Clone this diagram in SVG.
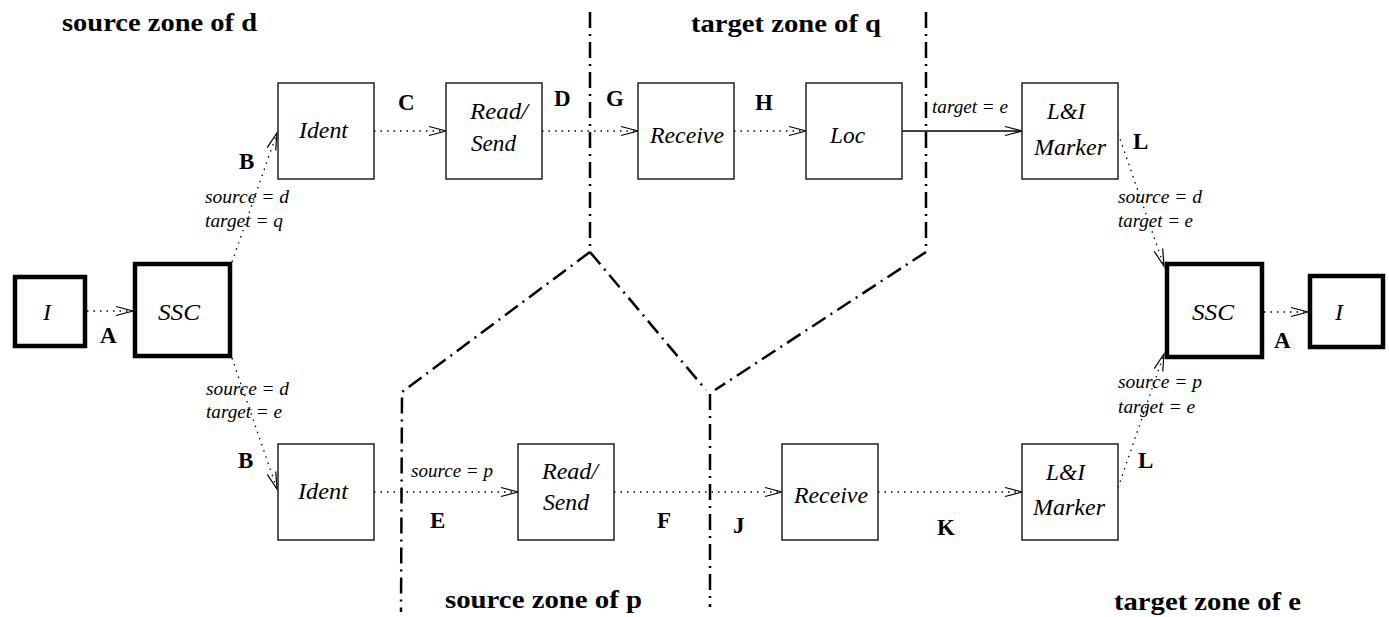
<svg xmlns="http://www.w3.org/2000/svg" width="1389" height="617" viewBox="0 0 1389 617">
<style>
.box{fill:#fff;stroke:#222;stroke-width:1.5}
.thick{fill:#fff;stroke:#000;stroke-width:4.5}
.nt{font-family:"Liberation Serif","Times New Roman",serif;font-style:italic;font-size:24px;fill:#000}
.sl{font-family:"Liberation Serif","Times New Roman",serif;font-style:italic;font-size:19px;fill:#000}
.lb{font-family:"Liberation Serif","Times New Roman",serif;font-weight:bold;font-size:23px;fill:#000}
.tt{font-family:"Liberation Serif","Times New Roman",serif;font-weight:bold;font-size:26px;fill:#000}
.dot{fill:none;stroke:#000;stroke-width:1.3;stroke-dasharray:1.5 5}
.solid{fill:none;stroke:#000;stroke-width:1.3}
.zone{fill:none;stroke:#000;stroke-width:2.5;stroke-dasharray:16 6 2 6}
</style>
<defs>
<marker id="arr" markerUnits="userSpaceOnUse" markerWidth="20" markerHeight="12" refX="17" refY="6" orient="auto" overflow="visible">
<path d="M0,1.5 L17,6 L0,10.5" fill="none" stroke="#000" stroke-width="1.2" stroke-dasharray="none"/>
</marker>
</defs>
<g id="zones">
<path class="zone" d="M590,12 L590,252 L402,392 L401,612"/>
<path class="zone" d="M590,252 L706,390"/>
<path class="zone" d="M710,394 L710,607"/>
<path class="zone" d="M926,12 L926,252 L715,390"/>
</g>
<g id="connectors">
<path class="dot" d="M87,311 L133,311" marker-end="url(#arr)"/>
<path class="dot" d="M1264,312 L1308,312" marker-end="url(#arr)"/>
<path class="dot" d="M232,262 L277,133" marker-end="url(#arr)"/>
<path class="dot" d="M232,358 L277,489" marker-end="url(#arr)"/>
<path class="dot" d="M374,131 L446,131" marker-end="url(#arr)"/>
<path class="dot" d="M542,131 L638,131" marker-end="url(#arr)"/>
<path class="dot" d="M734,131 L806,131" marker-end="url(#arr)"/>
<path class="solid" d="M902,131 L1022,131" marker-end="url(#arr)"/>
<path class="dot" d="M1118,133 L1164,266" marker-end="url(#arr)"/>
<path class="dot" d="M1118,488 L1164,354" marker-end="url(#arr)"/>
<path class="dot" d="M374,492 L518,492" marker-end="url(#arr)"/>
<path class="dot" d="M614,492 L782,492" marker-end="url(#arr)"/>
<path class="dot" d="M878,492 L1022,492" marker-end="url(#arr)"/>
</g>
<g id="node-I-left"><rect class="thick" x="15" y="277" width="70" height="69"/><text class="nt" x="43" y="320">I</text></g>
<g id="node-SSC-left"><rect class="thick" x="135" y="264" width="95" height="92"/><text class="nt" x="158" y="320" textLength="42" lengthAdjust="spacingAndGlyphs">SSC</text></g>
<g id="node-Ident-top"><rect class="box" x="278" y="83" width="96" height="96"/><text class="nt" x="299" y="138" textLength="49" lengthAdjust="spacingAndGlyphs">Ident</text></g>
<g id="node-ReadSend-top"><rect class="box" x="446" y="83" width="96" height="96"/><text class="nt" x="470" y="119" textLength="58" lengthAdjust="spacingAndGlyphs">Read/</text><text class="nt" x="471" y="151" textLength="45" lengthAdjust="spacingAndGlyphs">Send</text></g>
<g id="node-Receive-top"><rect class="box" x="638" y="83" width="96" height="96"/><text class="nt" x="650" y="143" textLength="74" lengthAdjust="spacingAndGlyphs">Receive</text></g>
<g id="node-Loc"><rect class="box" x="806" y="83" width="96" height="96"/><text class="nt" x="830" y="143" textLength="35" lengthAdjust="spacingAndGlyphs">Loc</text></g>
<g id="node-LIMarker-top"><rect class="box" x="1022" y="83" width="96" height="96"/><text class="nt" x="1047" y="119" textLength="38" lengthAdjust="spacingAndGlyphs">L&amp;I</text><text class="nt" x="1034" y="155" textLength="72" lengthAdjust="spacingAndGlyphs">Marker</text></g>
<g id="node-SSC-right"><rect class="thick" x="1167" y="264" width="95" height="93"/><text class="nt" x="1192" y="320" textLength="42" lengthAdjust="spacingAndGlyphs">SSC</text></g>
<g id="node-I-right"><rect class="thick" x="1310" y="276" width="73" height="71"/><text class="nt" x="1335" y="320">I</text></g>
<g id="node-Ident-bottom"><rect class="box" x="278" y="444" width="96" height="96"/><text class="nt" x="298" y="499" textLength="50" lengthAdjust="spacingAndGlyphs">Ident</text></g>
<g id="node-ReadSend-bottom"><rect class="box" x="518" y="444" width="96" height="96"/><text class="nt" x="542" y="479" textLength="56" lengthAdjust="spacingAndGlyphs">Read/</text><text class="nt" x="543" y="510" textLength="46" lengthAdjust="spacingAndGlyphs">Send</text></g>
<g id="node-Receive-bottom"><rect class="box" x="782" y="444" width="96" height="96"/><text class="nt" x="794" y="503" textLength="74" lengthAdjust="spacingAndGlyphs">Receive</text></g>
<g id="node-LIMarker-bottom"><rect class="box" x="1022" y="444" width="96" height="96"/><text class="nt" x="1046" y="480" textLength="39" lengthAdjust="spacingAndGlyphs">L&amp;I</text><text class="nt" x="1033" y="515" textLength="72" lengthAdjust="spacingAndGlyphs">Marker</text></g>
<g id="edge-labels">
<text class="sl" x="205" y="203" textLength="84" lengthAdjust="spacingAndGlyphs">source = d</text>
<text class="sl" x="205" y="227" textLength="78" lengthAdjust="spacingAndGlyphs">target = q</text>
<text class="sl" x="206" y="395" textLength="83" lengthAdjust="spacingAndGlyphs">source = d</text>
<text class="sl" x="206" y="418" textLength="76" lengthAdjust="spacingAndGlyphs">target = e</text>
<text class="sl" x="411" y="477" textLength="82" lengthAdjust="spacingAndGlyphs">source = p</text>
<text class="sl" x="932" y="113" textLength="76" lengthAdjust="spacingAndGlyphs">target = e</text>
<text class="sl" x="1118" y="203" textLength="84" lengthAdjust="spacingAndGlyphs">source = d</text>
<text class="sl" x="1118" y="227" textLength="75" lengthAdjust="spacingAndGlyphs">target = e</text>
<text class="sl" x="1118" y="388" textLength="84" lengthAdjust="spacingAndGlyphs">source = p</text>
<text class="sl" x="1118" y="413" textLength="77" lengthAdjust="spacingAndGlyphs">target = e</text>
<text class="lb" x="100" y="343">A</text>
<text class="lb" x="239" y="169">B</text>
<text class="lb" x="398" y="110">C</text>
<text class="lb" x="554" y="106">D</text>
<text class="lb" x="606" y="106">G</text>
<text class="lb" x="755" y="110">H</text>
<text class="lb" x="1133" y="149">L</text>
<text class="lb" x="1274" y="348">A</text>
<text class="lb" x="238" y="468">B</text>
<text class="lb" x="430" y="528">E</text>
<text class="lb" x="657" y="528">F</text>
<text class="lb" x="733" y="533">J</text>
<text class="lb" x="937" y="535">K</text>
<text class="lb" x="1138" y="468">L</text>
</g>
<g id="zone-titles">
<text class="tt" x="62" y="31" textLength="195" lengthAdjust="spacingAndGlyphs">source zone of d</text>
<text class="tt" x="691" y="32" textLength="190" lengthAdjust="spacingAndGlyphs">target zone of q</text>
<text class="tt" x="445" y="608" textLength="197" lengthAdjust="spacingAndGlyphs">source zone of p</text>
<text class="tt" x="1114" y="610" textLength="187" lengthAdjust="spacingAndGlyphs">target zone of e</text>
</g>
</svg>
